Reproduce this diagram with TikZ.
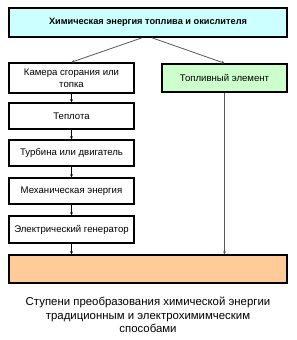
\documentclass[tikz,border=0pt]{standalone}
\usepackage{fontspec}
\setmainfont{Liberation Sans}
\usepackage{xcolor}
\usetikzlibrary{shapes,arrows,arrows.meta,positioning,calc}

\definecolor{chemcyan}{HTML}{CCFFFF}
\definecolor{cellgreen}{HTML}{CCFFCC}
\definecolor{outpeach}{HTML}{FFCC99}

\begin{document}
\begin{tikzpicture}[
    x=1pt, y=-1pt,
    wide/.style={rectangle, draw, line width=1.6pt, minimum width=278pt, minimum height=28pt, align=center, inner sep=1pt},
    stage/.style={rectangle, draw, line width=1.6pt, fill=white, minimum width=125pt, minimum height=26pt, align=center, font=\fontsize{9.6}{11.5}\selectfont, inner sep=1pt},
    arrow/.style={-{Stealth[length=3pt,width=3pt]}, line width=0.6pt},
    garrow/.style={-{Stealth[length=3pt,width=3pt]}, line width=0.8pt, gray!70!black}
]
\useasboundingbox (0,0) rectangle (297,340);

% Source of energy
\node[wide, fill=chemcyan, minimum height=29pt, font=\fontsize{9.2}{11}\selectfont\bfseries] (chem) at (148,22.5) {Химическая энергия топлива и окислителя};

% Traditional chain
\node[stage, minimum height=30pt] (chamber) at (71.5,78) {Камера сгорания или\\топка};
\node[stage] (heat) at (71.5,116) {Теплота};
\node[stage] (turbine) at (71.5,153) {Турбина или двигатель};
\node[stage] (mech) at (71.5,191) {Механическая энергия};
\node[stage, minimum height=27pt] (generator) at (71.5,229.5) {Электрический генератор};

% Electrochemical way
\node[stage, fill=cellgreen, minimum height=28pt] (fuelcell) at (224.5,78) {Топливный элемент};

% Result
\node[wide, fill=outpeach] (output) at (148,269) {};

% Arrows from source
\draw[garrow] ([xshift=-6pt]chem.south) -- (chamber.north);
\draw[garrow] ([xshift=4pt]chem.south) -- (fuelcell.north);

% Arrows along the chain
\draw[arrow] (chamber) -- (heat);
\draw[arrow] (heat) -- (turbine);
\draw[arrow] (turbine) -- (mech);
\draw[arrow] (mech) -- (generator);
\draw[arrow] (generator) -- (generator |- output.north);
\draw[garrow] (fuelcell) -- (fuelcell |- output.north);

% Caption
\node[align=center, font=\fontsize{11.4}{13.5}\selectfont] (caption) at (148,315) {Ступени преобразования химической энергии\\традиционным и электрохимимческим\\способами};

\end{tikzpicture}
\end{document}
